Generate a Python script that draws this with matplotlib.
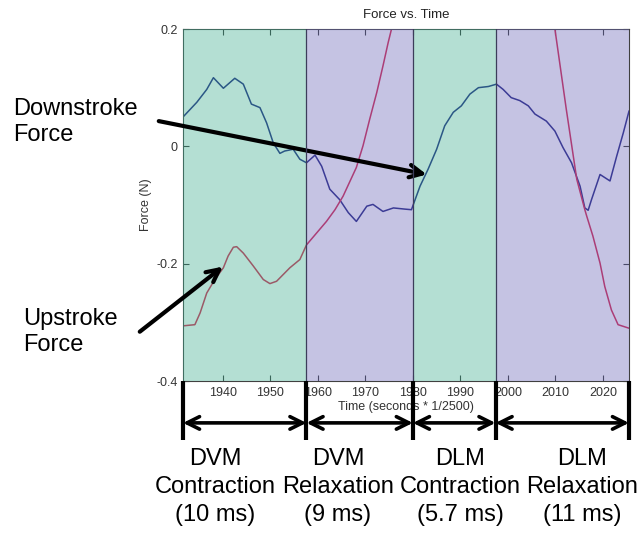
import matplotlib
matplotlib.use("Agg")
import matplotlib.pyplot as plt
import matplotlib.transforms as mtransforms

plt.rcParams['font.family'] = ['Liberation Sans', 'DejaVu Sans']

# ---- data ----
down_x = [1931.6, 1934.5, 1936.6, 1938, 1940.1, 1942.5, 1944.3, 1946, 1947.8, 1949.2,
          1950.6, 1952, 1953, 1954.8, 1956.2, 1957.6, 1959.4, 1960.8, 1962.5, 1964.6,
          1966.4, 1968.1, 1970.3, 1971.6, 1973.7, 1975.9, 1978.3, 1979.7, 1981.5, 1983.2,
          1985, 1986.7, 1988.5, 1990.2, 1992, 1993.8, 1995.9, 1997.6, 1999, 2000.7,
          2002.5, 2004.3, 2005.7, 2008.1, 2009.9, 2011.6, 2013.4, 2015.2, 2016.2, 2016.9,
          2017.6, 2019.4, 2021.5, 2022.9, 2024.3, 2025.5]
down_y = [0.050, 0.075, 0.097, 0.117, 0.099, 0.116, 0.106, 0.072, 0.066, 0.040,
          0.006, -0.012, -0.008, -0.005, -0.022, -0.028, -0.015, -0.034, -0.073, -0.091,
          -0.113, -0.128, -0.102, -0.099, -0.111, -0.105, -0.107, -0.108, -0.068, -0.039,
          -0.005, 0.035, 0.058, 0.069, 0.089, 0.100, 0.102, 0.106, 0.097, 0.083,
          0.078, 0.069, 0.055, 0.043, 0.026, -0.002, -0.028, -0.068, -0.105, -0.109,
          -0.091, -0.048, -0.059, -0.017, 0.023, 0.060]

up_x = [1931.6, 1934.1, 1935.2, 1936.6, 1938.3, 1940.1, 1941.1, 1942.2, 1942.9, 1944.3,
        1946.4, 1948.5, 1949.9, 1951.3, 1954.1, 1956.2, 1957.6, 1959.7, 1961.8, 1963.6,
        1965.3, 1968.1, 1969.5, 1970.9, 1972.4, 1973.7, 1974.8, 1975.5, 1978, 1985,
        1995, 2004, 2008, 2009.9, 2012.3, 2014.5, 2016.2, 2016.6, 2017.9, 2019.4,
        2020.4, 2021.8, 2023.2, 2025.5]
up_y = [-0.306, -0.304, -0.284, -0.250, -0.227, -0.207, -0.187, -0.172, -0.171, -0.182,
        -0.204, -0.227, -0.234, -0.230, -0.207, -0.193, -0.168, -0.148, -0.128, -0.108,
        -0.085, -0.036, 0.001, 0.046, 0.092, 0.137, 0.177, 0.200, 0.30, 0.50,
        0.55, 0.42, 0.28, 0.200, 0.063, -0.056, -0.108, -0.119, -0.153, -0.199,
        -0.239, -0.279, -0.304, -0.310]

phase_bounds = [1931.6, 1957.6, 1980.0, 1997.4, 2025.5]
phase_colors = ['#44b193', '#6e6bbb', '#44b193', '#6e6bbb']
phase_labels = ['DVM\nContraction\n(10 ms)', 'DVM\nRelaxation\n(9 ms)',
                'DLM\nContraction\n(5.7 ms)', 'DLM\nRelaxation\n(11 ms)']

x_ticks = [1940, 1950, 1960, 1970, 1980, 1990, 2000, 2010, 2020]
y_ticks = [-0.4, -0.2, 0, 0.2]
y_tick_labels = ['-0.4', '-0.2', '0', '0.2']

# layout (figure pixels) for the phase captions
W, H = 643, 534
label_centers_px = [215, 338, 460, 582]

# ---- figure ----
fig = plt.figure(figsize=(6.43, 5.34), dpi=100)
ax = fig.add_axes([183/W, 1-381/H, (629-183)/W, (381-29)/H])

ax.plot(down_x, down_y, color='#1b1c7d', lw=1.1, zorder=2)
ax.plot(up_x, up_y, color='#d5204a', lw=1.1, zorder=2)

for i in range(4):
    ax.axvspan(phase_bounds[i], phase_bounds[i+1], color=phase_colors[i],
               alpha=0.4, lw=0, zorder=3)
for b in phase_bounds[1:-1]:
    ax.axvline(b, color='#3c3c5a', lw=0.9, zorder=4)

ax.set_xlim(phase_bounds[0], phase_bounds[-1])
ax.set_ylim(-0.4, 0.2)
ax.set_xticks(x_ticks)
ax.set_yticks(y_ticks)
ax.set_yticklabels(y_tick_labels)
ax.tick_params(direction='in', top=True, right=True, length=4, width=0.8,
               labelsize=9, colors='#333333', pad=4)
for s in ax.spines.values():
    s.set_color('#404040')
    s.set_linewidth(0.8)
ax.set_title('Force vs. Time', fontsize=9.5, color='#222222', pad=8)
ax.set_xlabel('Time (seconds * 1/2500)', fontsize=9, color='#333333', labelpad=2)
ax.set_ylabel('Force (N)', fontsize=9, color='#333333', labelpad=3)

# ---- annotations ----
fig.text(13/W, 1-122/H, 'Downstroke\nForce', fontsize=17, ha='left', va='center')
fig.text(23/W, 1-332/H, 'Upstroke\nForce', fontsize=17, ha='left', va='center')

arrow_kw = dict(arrowstyle='->,head_length=0.9,head_width=0.45', lw=3, color='black',
                shrinkA=0, shrinkB=0)
ax.annotate('', xy=(1982.9, -0.048), xytext=(1926.5, 0.043), xycoords='data',
            arrowprops=arrow_kw, annotation_clip=False)
ax.annotate('', xy=(1940.0, -0.205), xytext=(1922.5, -0.316), xycoords='data',
            arrowprops=arrow_kw, annotation_clip=False)

trans = mtransforms.blended_transform_factory(ax.transData, ax.transAxes)
for b in phase_bounds:
    ax.plot([b, b], [0, -0.168], transform=trans, color='black', lw=3,
            clip_on=False, zorder=5, solid_capstyle='butt')
dbl_kw = dict(arrowstyle='<->,head_length=0.9,head_width=0.45', lw=2.6, color='black',
              shrinkA=0, shrinkB=0)
for i in range(4):
    ax.annotate('', xy=(phase_bounds[i+1], -0.119), xytext=(phase_bounds[i], -0.119),
                xycoords=trans, textcoords=trans, arrowprops=dbl_kw,
                annotation_clip=False)
    fig.text(label_centers_px[i]/W, 1-487/H, phase_labels[i], fontsize=17,
             ha='center', va='center', multialignment='center', linespacing=1.36)

fig.savefig('out.png', dpi=100)
